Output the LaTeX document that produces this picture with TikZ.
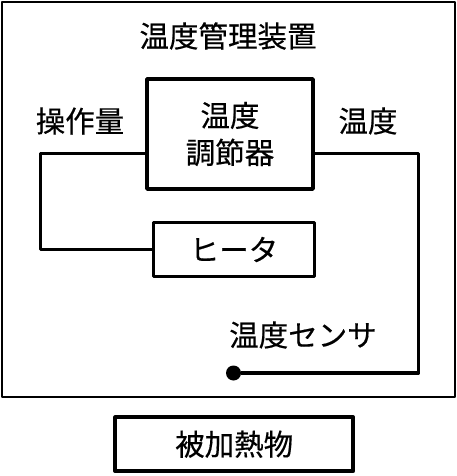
\documentclass[tikz,border=0pt]{standalone}
\usepackage{fontspec}
\setmainfont{Noto Sans CJK JP}[FakeBold=0.4]
\usepackage{tikz}

\tikzset{
    block/.style={draw, line width=3.8pt, minimum width=#1, inner sep=0pt},
    label text/.style={font=\fontsize{29.5}{37}\selectfont, inner sep=0pt},
}

\begin{document}
\begin{tikzpicture}[x=1pt,y=-1pt,line join=round]
\useasboundingbox (0,0) rectangle (457,476);

\node[draw, line width=2.2pt, minimum width=453pt, minimum height=395pt](device) at (228.5,199.5) {};
\node[label text](title) at (228,36) {温度管理装置};

\node[block=166pt, minimum height=110pt, label text, align=center](ctrl) at (230,134) {温度\\調節器};
\node[block=161pt, minimum height=54pt, label text](heater) at (234,249.5) {ヒータ};
\node[block=238pt, minimum height=54pt, label text](target) at (234.2,444.2) {被加熱物};

\node[circle, fill, inner sep=0pt, minimum size=15pt](sensor) at (233.5,373) {};

\coordinate (P_L) at (40.5,153.5);
\coordinate (P_R) at (418.5,153.5);

\draw[line width=3.5pt] (ctrl.west |- P_L) -- (P_L) |- (heater.west);
\draw[line width=3.5pt] (ctrl.east |- P_R) -- (P_R) |- (sensor);

\node[label text](u) at (80,121) {操作量};
\node[label text](t) at (368,121) {温度};
\node[label text](s) at (303,335) {温度センサ};

\end{tikzpicture}
\end{document}
